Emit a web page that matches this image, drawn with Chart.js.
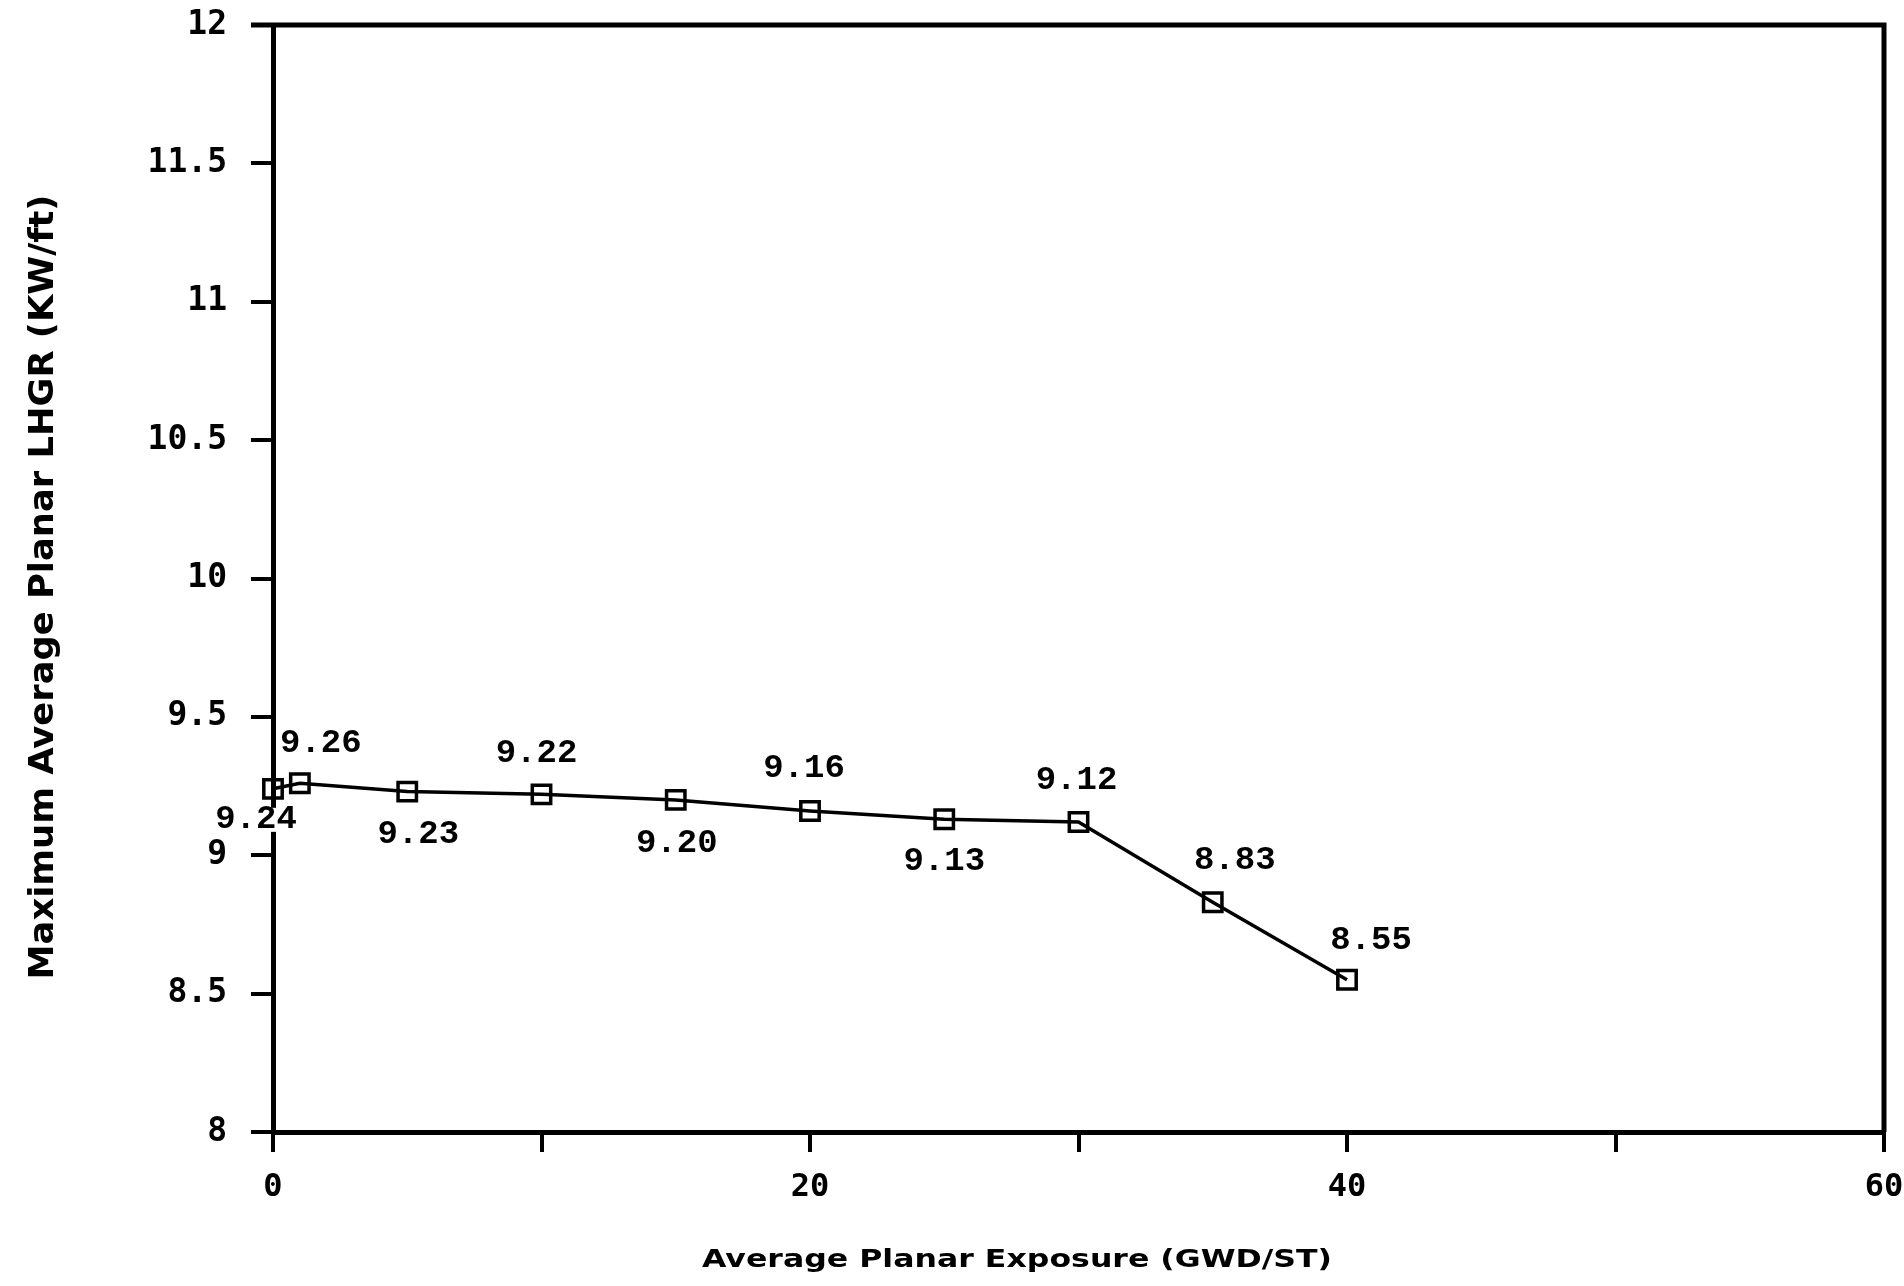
<!DOCTYPE html>
<html>
<head>
<meta charset="utf-8">
<script src="https://cdn.jsdelivr.net/npm/chart.js@4.4.0/dist/chart.umd.min.js"></script>
<style>
html,body{margin:0;padding:0;background:#fff;}
#wrap{width:1904px;height:1286px;}
</style>
</head>
<body>
<div id="wrap"><canvas id="c" width="1904" height="1286"></canvas></div>
<script>
// ---- data ----
const exposure = [0, 1, 5, 10, 15, 20, 25, 30, 35, 40];               // GWD/ST
const maplhgr  = [9.24, 9.26, 9.23, 9.22, 9.20, 9.16, 9.13, 9.12, 8.83, 8.55]; // KW/ft
const pointLabels = ['9.24', '9.26', '9.23', '9.22', '9.20', '9.16', '9.13', '9.12', '8.83', '8.55'];
const xTickLabels = { 0: '0', 20: '20', 40: '40', 60: '60' };
const yTickLabels = { 8: '8', 8.5: '8.5', 9: '9', 9.5: '9.5', 10: '10', 10.5: '10.5', 11: '11', 11.5: '11.5', 12: '12' };
const xTitle = 'Average Planar Exposure (GWD/ST)';
const yTitle = 'Maximum Average Planar LHGR (KW/ft)';

// ---- label placement (style only, px offsets from each marker) ----
const labelOffsets = [[-17, 31], [21, -40], [11, 43], [-5, -41], [1, 44], [-6, -43], [0, 42], [-2, -42], [22, -42], [24, -39]];

const boxPlugin = {
  id: 'box',
  beforeDatasetsDraw(chart) {
    const { ctx, chartArea: a } = chart;
    ctx.save();
    ctx.strokeStyle = '#000';
    ctx.lineWidth = 5;
    ctx.lineJoin = 'miter';
    ctx.beginPath();
    ctx.moveTo(a.left - 22, a.top);
    ctx.lineTo(a.right, a.top);
    ctx.lineTo(a.right, a.bottom);
    ctx.stroke();
    ctx.restore();
  }
};

const labelPlugin = {
  id: 'pointLabels',
  afterDatasetsDraw(chart) {
    const { ctx } = chart;
    const meta = chart.getDatasetMeta(0);
    ctx.save();
    ctx.font = 'bold 34px "Liberation Mono", "DejaVu Sans Mono", monospace';
    ctx.textAlign = 'center';
    ctx.textBaseline = 'middle';
    meta.data.forEach((el, i) => {
      const t = pointLabels[i];
      const x = el.x + labelOffsets[i][0];
      const y = el.y + labelOffsets[i][1];
      const w = ctx.measureText(t).width;
      ctx.fillStyle = '#fff';
      ctx.fillRect(x - w / 2 - 2, y - 12, w + 4, 24);
      ctx.fillStyle = '#000';
      ctx.fillText(t, x, y);
    });
    ctx.restore();
  }
};

function drawFitted(ctx, text, size, cx, cy, targetW, rot) {
  ctx.save();
  ctx.font = 'bold ' + size + 'px "DejaVu Sans", sans-serif';
  const w = ctx.measureText(text).width;
  ctx.translate(cx, cy);
  if (rot) ctx.rotate(rot);
  ctx.scale(targetW / w, 1);
  ctx.textAlign = 'center';
  ctx.textBaseline = 'alphabetic';
  ctx.fillStyle = '#000';
  ctx.fillText(text, 0, 0);
  ctx.restore();
}

const titlePlugin = {
  id: 'axisTitles',
  afterDraw(chart) {
    const { ctx } = chart;
    drawFitted(ctx, xTitle, 25, 1017, 1267, 630, 0);
    drawFitted(ctx, yTitle, 34, 53, 587, 785, -Math.PI / 2);
  }
};

const axisCommon = {
  grid: { display: true, drawOnChartArea: false, drawTicks: true, tickLength: 22, tickWidth: 4, tickColor: '#000', color: '#000', lineWidth: 4 },
  border: { display: true, color: '#000', width: 5 }
};

new Chart(document.getElementById('c'), {
  type: 'scatter',
  data: {
    datasets: [{
      data: exposure.map((x, i) => ({ x: x, y: maplhgr[i] })),
      showLine: true,
      borderColor: '#000',
      borderWidth: 3.5,
      tension: 0,
      pointStyle: 'rect',
      pointRadius: 13,
      pointBorderWidth: 3.5,
      pointBorderColor: '#000',
      pointBackgroundColor: 'rgba(0,0,0,0)',
      clip: false
    }]
  },
  options: {
    responsive: false,
    animation: false,
    devicePixelRatio: 1,
    layout: { padding: { top: 25, right: 20, left: 0, bottom: 0 } },
    plugins: { legend: { display: false }, tooltip: { enabled: false }, title: { display: false } },
    scales: {
      x: {
        type: 'linear', min: 0, max: 60,
        ...axisCommon,
        grid: { ...axisCommon.grid, tickLength: 20 },
        ticks: {
          stepSize: 10, autoSkip: false, maxRotation: 0, padding: 16, color: '#000',
          font: { family: '"DejaVu Sans Mono", monospace', weight: 'bold', size: 32 },
          callback: v => (xTickLabels[v] !== undefined ? xTickLabels[v] : '')
        },
        afterFit: s => { s.height = 154; s.paddingLeft = 0; s.paddingRight = 0; }
      },
      y: {
        type: 'linear', min: 8, max: 12,
        ...axisCommon,
        ticks: {
          stepSize: 0.5, autoSkip: false, padding: 24, color: '#000',
          font: { family: '"DejaVu Sans Mono", monospace', weight: 'bold', size: 33 },
          callback: v => (yTickLabels[v] !== undefined ? yTickLabels[v] : '')
        },
        afterFit: s => { s.width = 273; s.paddingTop = 0; s.paddingBottom = 0; }
      }
    }
  },
  plugins: [boxPlugin, labelPlugin, titlePlugin]
});
</script>
</body>
</html>
